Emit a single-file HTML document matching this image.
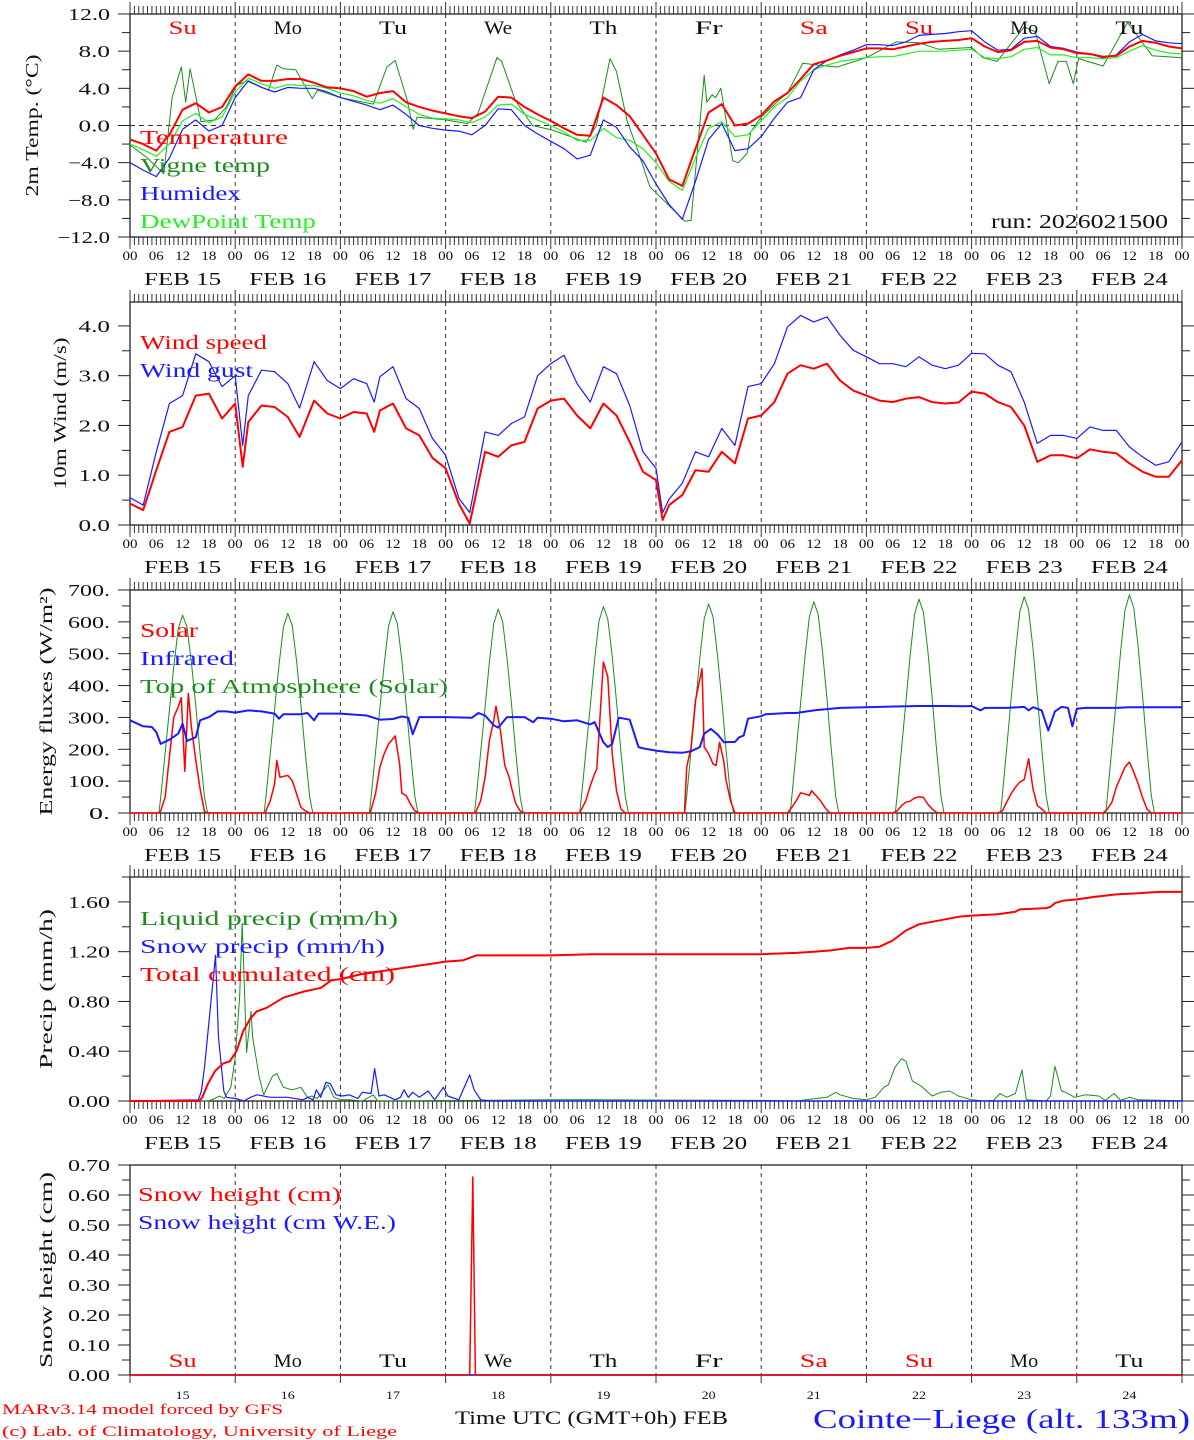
<!DOCTYPE html>
<html><head><meta charset="utf-8"><title>MAR meteogram Cointe-Liege</title>
<style>
html,body{margin:0;padding:0;background:#fff;}
svg{display:block;font-family:"Liberation Serif",serif;}
</style></head>
<body>
<svg id="chart" width="1194" height="1440" viewBox="0 0 1194 1440" xmlns="http://www.w3.org/2000/svg"></svg>
<script>
// ---------- DATA ----------
const dayNames = ['Su','Mo','Tu','We','Th','Fr','Sa','Su','Mo','Tu'];
const dayDates = ['15','16','17','18','19','20','21','22','23','24'];
const stepHours = Array.from({length:81},(_,i)=>i*3);

const tempVals = [-1.5,-2.0,-2.7,-1.0,1.7,2.4,1.4,2.0,
 4.2,5.5,4.8,4.8,5.0,5.0,4.6,4.1,
 4.0,3.7,3.1,3.5,3.7,2.5,2.0,1.6,
 1.3,1.0,0.8,1.5,3.1,3.0,2.0,1.2,
 0.5,-0.3,-1.0,-1.1,3.0,2.2,1.0,-1.0,
 -3.0,-5.8,-6.5,-2.5,1.4,2.3,0.0,0.2,
 1.1,2.6,3.5,5.0,6.6,7.0,7.5,7.9,
 8.3,8.3,8.2,8.5,8.8,9.0,9.1,9.2,
 9.4,8.5,7.9,8.1,9.0,9.1,8.4,8.2,
 7.8,7.7,7.4,7.5,8.5,9.1,8.9,8.5,8.3];
const humidexVals = [-4.0,-4.8,-5.5,-3.5,-0.4,0.6,-0.6,0.0,
 3.0,4.8,4.1,3.6,4.1,4.0,4.0,3.6,
 3.0,2.6,2.2,1.7,2.2,1.2,0.0,-0.3,
 -0.5,-0.6,-1.0,0.0,1.8,1.7,0.0,-0.9,
 -1.7,-2.5,-3.6,-3.2,0.6,-0.2,-2.3,-3.8,
 -6.3,-8.5,-10.1,-6.0,-1.5,0.2,-2.7,-2.5,
 -1.2,0.8,2.5,3.0,6.0,7.0,7.6,8.1,
 8.7,8.7,8.6,9.0,9.7,9.8,9.9,10.1,
 10.2,9.0,8.1,8.2,9.4,9.6,8.5,8.3,
 7.9,7.7,7.3,7.6,9.0,9.8,9.1,8.9,8.8];
const dewVals = [-2.0,-2.6,-3.3,-2.0,0.5,1.3,0.3,0.9,
 3.6,5.1,4.5,4.0,4.4,4.3,4.3,4.0,
 3.5,3.2,2.7,2.4,2.9,2.0,1.2,0.8,
 0.7,0.6,0.3,0.9,2.2,2.3,1.2,0.6,
 0.0,-0.7,-1.6,-1.6,-0.3,-1.3,-1.6,-2.5,
 -4.0,-6.0,-7.0,-3.5,-0.3,0.4,-1.2,-1.0,
 0.5,2.0,3.0,4.8,6.0,6.5,6.9,7.1,
 7.3,7.4,7.4,7.7,8.0,8.0,8.0,8.1,
 8.2,7.3,7.2,7.4,8.2,8.4,7.6,7.6,
 7.3,7.3,7.2,7.3,8.0,8.6,8.1,7.8,7.7];
const vigneHours = [0,4,7.7,9.6,11.7,12.7,13.7,16.2,19.3,22,24.3,26.6,31.6,33.5,35,37.8,41.6,42.8,48,55.5,58.6,60.5,63.2,64.6,65.5,72,77,79.4,83.7,84.8,87.9,91.8,96.4,104,106.4,109.5,111,113.4,115.7,118.6,126.6,128,131,131.6,132.8,133.6,134.8,137.5,138.8,140.8,141.6,144,148,150,153.5,157,161.3,168,174.8,180,184.5,192,194.6,197.8,204,206.5,209.7,211.7,213.6,215.2,216.4,222,227.6,233.2,240];
const vigneVals = [-2.1,-3.5,-5.2,3.0,6.3,2.5,6.1,0.4,0.6,2.0,4.3,4.8,3.8,6.5,6.1,6.0,2.9,3.8,3.0,2.3,6.3,7.0,2.8,-0.4,0.9,0.6,0.2,1.3,7.3,6.9,2.7,0.0,-0.5,-1.8,0.0,7.2,5.8,0.5,-2.5,-6.6,-10.3,-10.2,5.4,2.5,3.3,3.0,4.0,-3.8,-4.0,-3.0,-0.7,0.9,2.7,3.5,6.7,6.5,6.3,7.3,9.0,8.9,8.2,8.4,7.3,6.9,10.6,10.1,4.5,6.9,6.9,4.5,7.2,6.4,11.1,7.5,7.3];

const windHours = [0,3,6,9,12,15,18,21,24,25.7,27,30,33,36,38.7,42,45,48,51,54,55.7,57,60,63,66,69,72,75,77.5,81,84,87,90,93,96,99,102,105,108,111,114,117,120,121.5,123,126,129,132,135,138,141,144,147,150,153,156,159,162,165,168,171,174,177,180,183,186,189,192,195,198,201,204,207,210,213,216,219,222,225,228,231,234,237,240];
const windSpeedVals = [0.43,0.3,1.1,1.87,1.97,2.6,2.64,2.14,2.44,1.17,2.07,2.4,2.37,2.17,1.77,2.5,2.24,2.14,2.27,2.24,1.87,2.3,2.44,1.94,1.8,1.35,1.14,0.43,0.03,1.47,1.37,1.6,1.67,2.34,2.5,2.54,2.2,1.94,2.44,2.2,1.67,1.07,0.9,0.1,0.4,0.6,1.1,1.07,1.47,1.24,2.14,2.2,2.47,3.04,3.21,3.14,3.24,2.9,2.7,2.6,2.5,2.47,2.54,2.57,2.47,2.44,2.46,2.68,2.64,2.47,2.37,2.0,1.27,1.4,1.4,1.34,1.52,1.47,1.44,1.24,1.07,0.97,0.97,1.3];
const windGustVals = [0.55,0.4,1.47,2.44,2.6,3.44,3.28,2.78,3.0,1.6,2.6,3.11,3.08,2.84,2.35,3.28,2.9,2.74,2.94,2.84,2.47,2.98,3.18,2.54,2.34,1.74,1.4,0.54,0.25,1.87,1.8,2.04,2.17,3.0,3.24,3.41,2.84,2.47,3.18,3.04,2.4,1.47,1.14,0.25,0.52,0.84,1.47,1.37,1.94,1.6,2.78,2.84,3.24,3.98,4.21,4.08,4.18,3.81,3.51,3.38,3.24,3.24,3.18,3.38,3.21,3.14,3.21,3.45,3.44,3.21,3.08,2.47,1.64,1.8,1.8,1.74,1.97,1.9,1.9,1.57,1.37,1.2,1.27,1.67];

const solarHours = [0,6.5,7,8,9,10,11,11.7,12.5,13.3,14,15,16,17,18,
 30.8,32,33,33.5,34.2,36,37,38,39,40,41,
 54.8,56,57,58,59,60,60.5,61.5,62,63,64,65,66,
 78.8,80,81,82,83,83.5,84.5,85.5,86.5,87,88,89,90,
 102.6,104,105,106,106.5,107,108,109,110,111,112,113,
 126.5,127,128,129,130.5,131,132,133,133.7,134.5,135.5,136,137,138,
 150,151,152,153,154,155,155.5,156.5,157.5,158.5,159.5,160,
 174,175,176,177,178,179,180,181,182,183,184,185,
 198,199,200,201,202,203,204,205,206,207,208,209,
 222,223,224,225,226,227,228,229,230,231,232,233,240];
const solarVals = [0,0,7,49,175,301,333,362,131,375,270,165,76,4,0,
 0,39,91,165,112,118,102,60,18,7,0,
 0,60,144,186,217,233,242,154,62,55,28,7,0,
 0,39,112,228,291,335,259,149,112,81,30,7,0,
 0,39,86,123,138,249,474,427,186,70,13,0,
 0,144,207,354,453,207,186,154,149,222,160,102,39,0,
 0,18,39,63,60,55,70,55,39,18,2,0,
 0,7,23,34,37,47,51,49,28,13,2,0,
 0,7,34,60,81,97,105,170,76,23,13,0,
 0,13,34,81,112,144,160,128,91,49,13,0,0];
const irHours = [0,3,5,6,7,9,11,12,13,15,16,18,20,22,24,27,30,33,34,35,39,40.5,42,43,48,54,57,60,62,63.5,64.5,66,72,78,79.5,81,83,84,86,90,92,93,96,99,102,105,106,108,109,110,111.5,114,116,117,120,123,126,128,130,131,132.5,134,135.5,137,138,139,140,141,144,145,150,152,156,162,168,180,186,190,192,194,195,200,204,205,206,208,209.5,211,212.5,214,215,216,218,225,228,240];
const irVals = [291,272,270,254,217,230,249,280,226,238,291,301,319,319,315,322,319,312,296,310,310,314,291,312,312,306,293,295,303,299,247,301,301,299,314,306,275,268,301,301,285,299,296,288,291,278,285,222,207,217,299,293,207,203,196,191,189,194,207,249,264,247,222,223,223,238,243,296,304,310,314,314,322,330,332,336,336,335,336,322,330,330,333,322,332,322,259,319,333,330,272,327,330,330,332,332];
const toaPeaks = [621,627,632,640,648,656,663,671,679,685];
const toaProfileHours = [6.6,7,8,9,10,11,12,13,14,15,16,17,17.7];
const toaProfile = [0,0.08,0.3,0.52,0.74,0.93,1.0,0.94,0.76,0.54,0.3,0.08,0];

const liqHours = [0,18,20.5,21.5,23,24,25,25.6,26.6,27.6,28,29.5,30.5,32.5,33.5,35,37,39,40.5,41.5,42.7,44,45.2,46.5,48,50,53,55.5,56.5,96,106,144,152,156.5,159,161,162,165,168,170,172,173,174.5,176,177,178.5,180.5,183,185,187,189,192,195,197,198.5,200,202,203.5,204.5,207,209,210,211,212.5,213.5,215.5,218,221,222.5,224.5,226,228,230,236,240];
const liqVals = [0,0,0.04,0.02,0.11,0.35,0.83,1.43,0.39,0.72,0.51,0.19,0.05,0.2,0.22,0.11,0.09,0.11,0.03,0.04,0.02,0.08,0.13,0.03,0.01,0.01,0,0.05,0,0.01,0.01,0.005,0,0.02,0.03,0.07,0.05,0.02,0.01,0.03,0.11,0.13,0.27,0.34,0.32,0.16,0.12,0.04,0.07,0.08,0.04,0.01,0,0.005,0.06,0.03,0.06,0.25,0.01,0.005,0,0.04,0.28,0.08,0.07,0.03,0.05,0.04,0.005,0.06,0.005,0.03,0.01,0.005,0];
const snowHours = [0,15.6,16.3,17,19.5,20.2,21.4,22,24,26,27.5,29,32,36,39.5,40.5,41.8,42.5,43.5,44.7,45.7,47,48.5,50,52,53,55,55.8,56.8,58,60.5,61.7,62.5,63.5,64.5,66,68,69.5,71.5,72.5,75,77.5,78.5,80,82,240];
const snowVals = [0,0.01,0.08,0.27,1.17,0.51,0.08,0.03,0.02,0,0.03,0.05,0.03,0.03,0.01,0.03,0.01,0.09,0.03,0.15,0.14,0.05,0.04,0.05,0.02,0.07,0.06,0.26,0.04,0.05,0.01,0.03,0.09,0.03,0.07,0.03,0.08,0.01,0.11,0.04,0.01,0.21,0.09,0.01,0,0];
const cumHours = [0,15.8,16.5,17.8,19.4,21.2,22.8,24.3,25.8,27.4,28.9,31.2,35,39.7,43.6,45.9,48.2,52.8,60.5,68.2,72,75.9,79,96,105.3,119,144,152,156,160,164,168,171,174,177,180,183,186,189,192,198,202,203,209,210,211,213,216,220,225,230,235,240];
const cumVals = [0,0,0.03,0.14,0.24,0.30,0.32,0.40,0.56,0.66,0.72,0.75,0.83,0.88,0.91,0.97,0.98,1.02,1.06,1.10,1.12,1.13,1.17,1.17,1.18,1.18,1.18,1.19,1.20,1.21,1.23,1.23,1.24,1.29,1.37,1.42,1.44,1.46,1.48,1.49,1.50,1.52,1.54,1.55,1.56,1.59,1.61,1.62,1.64,1.66,1.67,1.68,1.68];

const snowHtHours = [0,77.5,78.2,78.8,240];
const snowHtVals = [0,0,0.66,0,0];
const snowWEHours = [0,240];
const snowWEVals = [0,0];

// ---------- LAYOUT ----------
const svg = document.getElementById('chart');
const NS = 'http://www.w3.org/2000/svg';
const X0 = 130, X1 = 1182;
function xs(h){ return X0 + (X1 - X0) * h / 240; }
function el(tag, attrs, parent){
  const e = document.createElementNS(NS, tag);
  for (const k in attrs) e.setAttribute(k, attrs[k]);
  (parent || svg).appendChild(e);
  return e;
}
function txt(str, x, y, size, color, anchor, len, parent){
  const t = el('text', {x:x, y:y, 'font-size':size, fill:color, 'text-anchor':anchor||'start'}, parent);
  if (len) { t.setAttribute('textLength', len); t.setAttribute('lengthAdjust','spacingAndGlyphs'); }
  t.textContent = str;
  return t;
}

const panels = [
 {name:'temperature-panel', top:14, bottom:237, min:-12, max:12, major:4, minor:2, dec:1, title:'2m Temp. (°C)', titleX:32, titleLen:142},
 {name:'wind-panel', top:302, bottom:525, min:0, max:4.48, major:1, minor:0.5, dec:1, title:'10m Wind (m/s)', titleX:60, titleLen:152},
 {name:'energy-panel', top:590, bottom:813, min:0, max:700, major:100, minor:50, dec:0, title:'Energy fluxes (W/m²)', titleX:46, titleLen:228},
 {name:'precip-panel', top:877, bottom:1101, min:0, max:1.8, major:0.4, minor:0.2, dec:2, title:'Precip (mm/h)', titleX:46, titleLen:160},
 {name:'snow-panel', top:1165, bottom:1375, min:0, max:0.7, major:0.1, minor:0.05, dec:2, title:'Snow height (cm)', titleX:46, titleLen:196}
];
panels.forEach(p => { p.y = v => p.bottom - (v - p.min) / (p.max - p.min) * (p.bottom - p.top); });

function fmt(v, dec){
  if (dec === 0) return Math.round(v) + '.';
  const s = Math.abs(v).toFixed(dec);
  return (v < -1e-9 ? '\u2212' : '') + s;
}

panels.forEach((p, pi) => {
  const g = el('g', {});
  
  
  // day separator dashed lines
  for (let d = 1; d < 10; d++) {
    const l = el('line', {x1:xs(d*24), x2:xs(d*24), y1:p.top, y2:p.bottom, stroke:'#333', 'stroke-width':1, 'stroke-dasharray':'4,4'}, g);
    
    
  }
  // y ticks
  const nMinor = Math.round((p.max - p.min) / p.minor);
  for (let i = 0; i <= nMinor; i++) {
    const v = p.min + i * p.minor;
    const y = p.y(v);
    if (y < p.top - 0.5) continue;
    const isMajor = Math.abs(v / p.major - Math.round(v / p.major)) < 1e-6;
    const len = isMajor ? 12 : 8;
    el('line', {x1:X0-len, x2:X0, y1:y, y2:y, stroke:'#222', 'stroke-width':1}, g);
    el('line', {x1:X1, x2:X1+len, y1:y, y2:y, stroke:'#222', 'stroke-width':1}, g);
    if (isMajor) {
      const s = fmt(v, p.dec);
      const lab = txt(s, 110, y + 6, 17, '#111', 'end', s.length * 10.5, g);
      
      
    }
  }
  // box
  const box = el('rect', {x:X0, y:p.top, width:X1-X0, height:p.bottom-p.top, fill:'none', stroke:'#222', 'stroke-width':1.3}, g);
  
  
  if (pi < 4) {
    // hourly ticks top & bottom
    for (let h = 0; h <= 240; h++) {
      const x = xs(h);
      const big = h % 24 === 0;
      el('line', {x1:x, x2:x, y1:p.top-(big?12:8), y2:p.top, stroke:'#333', 'stroke-width':1}, g);
      el('line', {x1:x, x2:x, y1:p.bottom, y2:p.bottom+(big?12:8), stroke:'#333', 'stroke-width':1}, g);
    }
    // hour labels
    for (let h = 0; h <= 240; h += 6) {
      const lab = txt(String(h % 24).padStart(2,'0'), xs(h), p.bottom + 23, 13, '#111', 'middle', 15, g);
      
      
    }
    for (let d = 0; d < 10; d++) {
      const lab = txt('FEB ' + dayDates[d], xs(d*24+12), p.bottom + 48, 18, '#111', 'middle', 77, g);
      
      
    }
  } else {
    for (let d = 0; d <= 10; d++) {
      el('line', {x1:xs(d*24), x2:xs(d*24), y1:p.bottom, y2:p.bottom+8, stroke:'#333', 'stroke-width':1}, g);
    }
    for (let d = 0; d < 10; d++) {
      const lab = txt(dayDates[d], xs(d*24+12), p.bottom + 24, 12, '#111', 'middle', 14, g);
      
      
    }
  }
  // y title
  const ty = (p.top + p.bottom) / 2;
  const tt = txt(p.title, 0, 0, 18, '#111', 'middle', p.titleLen, g);
  tt.setAttribute('transform', 'translate(' + (p.titleX + 6) + ',' + ty + ') rotate(-90)');
  
  
});

function line(p, hours, vals, color, width, name){
  const pts = hours.map((h, i) => xs(h).toFixed(1) + ',' + p.y(vals[i]).toFixed(1)).join(' ');
  const pl = el('polyline', {points:pts, fill:'none', stroke:color, 'stroke-width':width, 'stroke-linejoin':'round'});
  
  
  return pl;
}
function legend(str, x, y, color, len, size){
  const t = txt(str, x, y, size || 20, color, 'start', len);
  
  
  return t;
}

const RED = '#ff0000', BLUE = '#1a1aff', DGREEN = '#1c8c1c', LGREEN = '#22f022';

// Panel 1
const P1 = panels[0];
const zl = el('line', {x1:X0, x2:X1, y1:P1.y(0), y2:P1.y(0), stroke:'#333', 'stroke-width':1, 'stroke-dasharray':'5,4'});


line(P1, vigneHours, vigneVals, DGREEN, 1, 'vigne-temp-line');
line(P1, stepHours, dewVals, LGREEN, 1.2, 'dewpoint-line');
line(P1, stepHours, humidexVals, BLUE, 1.2, 'humidex-line');
line(P1, stepHours, tempVals, RED, 2, 'temperature-line');
dayNames.forEach((n, d) => {
  const c = (n === 'Su' || n === 'Sa') ? RED : '#111';
  const t = txt(n, xs(d*24+12), 34, 19, c, 'middle', n.length * 14);
  
  
});
legend('Temperature', 140, 144, RED, 148);
legend('Vigne temp', 140, 172, DGREEN, 130);
legend('Humidex', 140, 200, BLUE, 101);
legend('DewPoint Temp', 140, 228, LGREEN, 176);
const run = txt('run: 2026021500', 1168, 228, 20, '#111', 'end', 177);



// Panel 2
const P2 = panels[1];
line(P2, windHours, windGustVals, BLUE, 1.2, 'wind-gust-line');
line(P2, windHours, windSpeedVals, RED, 2, 'wind-speed-line');
legend('Wind speed', 140, 349, RED, 127);
legend('Wind gust', 140, 377, BLUE, 113);

// Panel 3
const P3 = panels[2];
const toaH = [], toaV = [];
toaPeaks.forEach((pk, d) => {
  toaH.push(d*24); toaV.push(0);
  toaProfileHours.forEach((ph, i) => { toaH.push(d*24 + ph); toaV.push(pk * toaProfile[i]); });
});
toaH.push(240); toaV.push(0);
line(P3, toaH, toaV, DGREEN, 1, 'toa-solar-line');
line(P3, solarHours, solarVals, RED, 1.5, 'solar-line');
line(P3, irHours, irVals, BLUE, 2, 'infrared-line');
legend('Solar', 140, 637, RED, 58);
legend('Infrared', 140, 665, BLUE, 94);
legend('Top of Atmosphere (Solar)', 140, 693, DGREEN, 308);

// Panel 4
const P4 = panels[3];
line(P4, liqHours, liqVals, DGREEN, 1, 'liquid-precip-line');
line(P4, snowHours, snowVals, BLUE, 1.2, 'snow-precip-line');
line(P4, cumHours, cumVals, RED, 2, 'cumulated-precip-line');
legend('Liquid precip (mm/h)', 140, 925, DGREEN, 258);
legend('Snow precip (mm/h)', 140, 953, BLUE, 245);
legend('Total cumulated (cm)', 140, 981, RED, 255);

// Panel 5
const P5 = panels[4];
line(P5, snowWEHours, snowWEVals, BLUE, 1.5, 'snow-we-line');
line(P5, snowHtHours, snowHtVals, RED, 1.5, 'snow-height-line');
dayNames.forEach((n, d) => {
  const c = (n === 'Su' || n === 'Sa') ? RED : '#111';
  const t = txt(n, xs(d*24+12) - 0, 1367, 19, c, 'middle', n.length * 14);
  
  
});
legend('Snow height (cm)', 138, 1201, RED, 203);
legend('Snow height (cm W.E.)', 138, 1229, BLUE, 258);

// Footer
const f1 = txt('MARv3.14 model forced by GFS', 2, 1414, 15, RED, 'start', 281);


const f2 = txt('(c) Lab. of Climatology, University of Liege', 2, 1436, 15, RED, 'start', 395);


const f3 = txt('Time UTC (GMT+0h) FEB', 455, 1424, 19, '#111', 'start', 273);


const f4 = txt('Cointe\u2212Liege (alt. 133m)', 813, 1428, 27, BLUE, 'start', 377);


</script>
</body></html>
